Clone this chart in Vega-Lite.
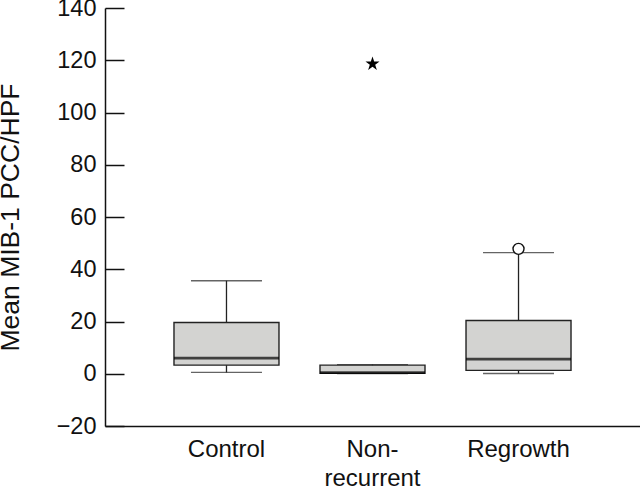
{
  "$schema": "https://vega.github.io/schema/vega-lite/v6.json",
  "width": 535,
  "height": 418,
  "autosize": {"type": "none"},
  "padding": {"left": 105, "top": 8, "right": 0, "bottom": 63},
  "background": "white",
  "config": {
    "view": {"stroke": null},
    "font": "Liberation Sans",
    "axis": {
      "domainColor": "#111",
      "domainWidth": 1.5,
      "tickColor": "#111",
      "tickWidth": 1.5,
      "labelColor": "#111",
      "labelFont": "Liberation Sans",
      "labelFontSize": 23.5,
      "titleFont": "Liberation Sans",
      "titleFontSize": 26.5,
      "titleFontWeight": "normal",
      "titleColor": "#111",
      "grid": false
    }
  },
  "datasets": {
    "boxes": [
      {"group": "Control", "lo": 0.5, "q1": 3.3, "med": 6.0, "q3": 19.6, "hi": 35.6},
      {"group": "Non-recurrent", "lo": 0.1, "q1": 0.2, "med": 0.4, "q3": 3.3, "hi": 3.5},
      {"group": "Regrowth", "lo": 0.1, "q1": 1.3, "med": 5.6, "q3": 20.4, "hi": 46.4}
    ],
    "outliers": [
      {"group": "Non-recurrent", "value": 118.6, "kind": "extreme"},
      {"group": "Regrowth", "value": 47.8, "kind": "outlier"}
    ]
  },
  "encoding": {
    "x": {
      "field": "group",
      "type": "nominal",
      "sort": ["Control", "Non-recurrent", "Regrowth"],
      "scale": {"paddingInner": 0, "paddingOuter": 0.332},
      "axis": {
        "title": null,
        "labelAngle": 0,
        "ticks": false,
        "labelPadding": 11,
        "labelLineHeight": 29,
        "labelFontSize": 24,
        "labelExpr": "datum.label == 'Non-recurrent' ? ['Non-', 'recurrent'] : datum.label"
      }
    }
  },
  "layer": [
    {
      "data": {"name": "boxes"},
      "mark": {"type": "rule", "color": "#222", "strokeWidth": 1.3},
      "encoding": {
        "y": {
          "field": "lo",
          "type": "quantitative",
          "scale": {"domain": [-20, 140], "nice": false, "zero": false},
          "axis": {
            "title": "Mean MIB-1 PCC/HPF",
            "values": [-20, 0, 20, 40, 60, 80, 100, 120, 140],
            "labelExpr": "datum.value < 0 ? '\u2212' + abs(datum.value) : datum.label",
            "tickSize": -19,
            "labelPadding": 28,
            "titlePadding": 32
          }
        },
        "y2": {"field": "hi"}
      }
    },
    {
      "data": {"name": "boxes"},
      "mark": {"type": "tick", "color": "#222", "thickness": 1.3, "size": 71},
      "encoding": {"y": {"field": "lo", "type": "quantitative"}}
    },
    {
      "data": {"name": "boxes"},
      "mark": {"type": "tick", "color": "#222", "thickness": 1.3, "size": 71},
      "encoding": {"y": {"field": "hi", "type": "quantitative"}}
    },
    {
      "data": {"name": "boxes"},
      "mark": {"type": "bar", "size": 105, "fill": "#d3d3d1", "stroke": "#222", "strokeWidth": 1.4},
      "encoding": {
        "y": {"field": "q1", "type": "quantitative"},
        "y2": {"field": "q3"}
      }
    },
    {
      "data": {"name": "boxes"},
      "mark": {"type": "tick", "color": "#000", "thickness": 2.8, "size": 105},
      "encoding": {"y": {"field": "med", "type": "quantitative"}}
    },
    {
      "data": {"name": "outliers"},
      "transform": [{"filter": "datum.kind == 'outlier'"}],
      "mark": {"type": "point", "shape": "circle", "filled": false, "fill": "white", "fillOpacity": 1, "stroke": "#111", "strokeWidth": 1.4, "size": 121, "opacity": 1},
      "encoding": {"y": {"field": "value", "type": "quantitative"}}
    },
    {
      "data": {"name": "outliers"},
      "transform": [{"filter": "datum.kind == 'extreme'"}],
      "mark": {"type": "point", "shape": "M0,-1L0.2245,-0.309L0.9511,-0.309L0.3633,0.118L0.5878,0.809L0,0.382L-0.5878,0.809L-0.3633,0.118L-0.9511,-0.309L-0.2245,-0.309Z", "filled": true, "color": "#000", "size": 220, "opacity": 1},
      "encoding": {"y": {"field": "value", "type": "quantitative"}}
    }
  ]
}
